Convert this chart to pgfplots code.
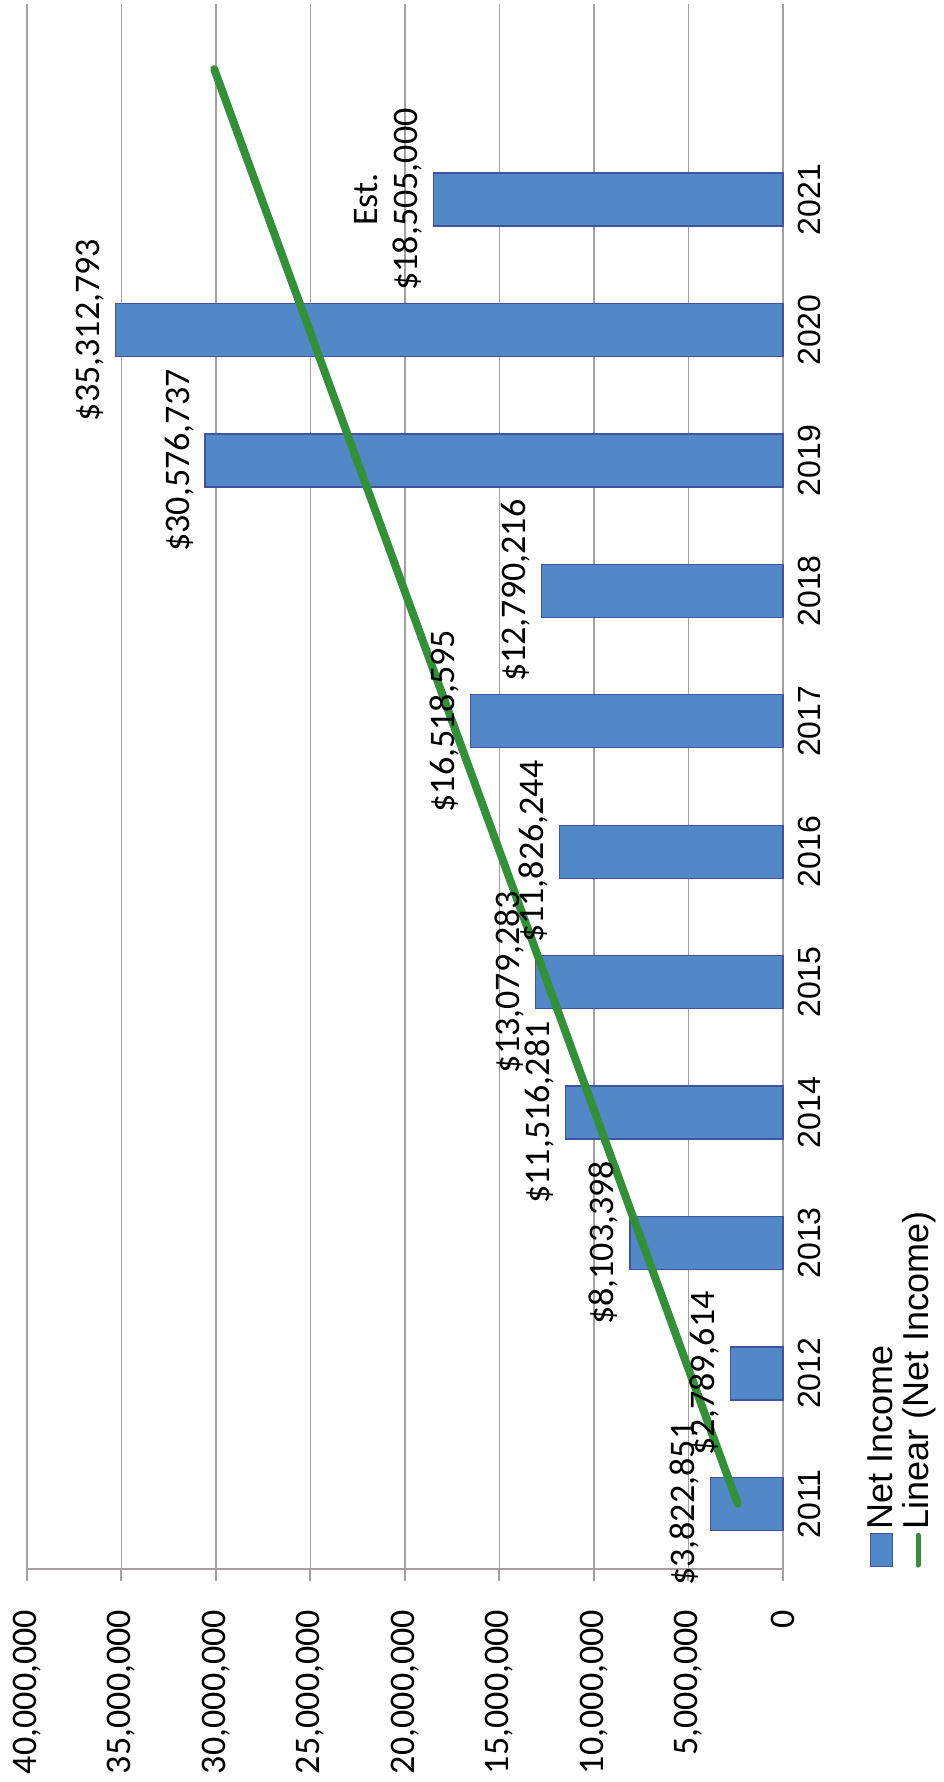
\documentclass[border=0pt]{standalone}
\usepackage{pgfplots}
\pgfplotsset{compat=1.18}
\usepackage{fontspec}
\setmainfont{Carlito}
\newfontfamily\arialf{Liberation Sans}
\definecolor{barfill}{RGB}{83,136,200}
\definecolor{barline}{RGB}{62,84,160}
\definecolor{trend}{RGB}{50,145,55}
\definecolor{gridc}{RGB}{165,160,160}
\begin{document}
\begin{tikzpicture}
\begin{axis}[
  scale only axis, width=378pt, height=782.5pt,
  clip=false,
  x dir=reverse,
  xmin=0, xmax=40000000, ymin=0.5, ymax=12.5,
  axis x line*=bottom, axis y line*=right,
  axis line style={draw=gridc, line width=1.3pt},
  xmajorgrids, grid style={draw=gridc, line width=0.8pt},
  xtick={0,5000000,10000000,15000000,20000000,25000000,30000000,35000000,40000000},
  xticklabels={0,{5,000,000},{10,000,000},{15,000,000},{20,000,000},{25,000,000},{30,000,000},{35,000,000},{40,000,000}},
  scaled x ticks=false,
  tick align=outside,
  xtick style={draw=gridc, line width=1pt},
  major tick length=6pt,
  xticklabel shift=11pt,
  xticklabel style={rotate=90, anchor=east, font=\fontsize{18}{21}\selectfont},
  ytick={1,2,3,4,5,6,7,8,9,10,11},
  yticklabels={2011,2012,2013,2014,2015,2016,2017,2018,2019,2020,2021},
  ytick style={draw=none},
  yticklabel style={rotate=90, anchor=north, inner sep=1.5pt, font=\arialf\fontsize{16}{19}\selectfont},
]
\addplot[xbar, bar width=26.5pt, bar shift=0pt, fill=barfill, draw=barline, line width=0.7pt,
  point meta=explicit symbolic,
  nodes near coords={\pgfplotspointmeta},
  every node near coord/.append style={rotate=90, anchor=south, yshift=2pt, align=center, text=black, font=\fontsize{18}{20}\selectfont}]
coordinates {
(3822851,1) [{\$3,822,851}]
(2789614,2) [{\$2,789,614}]
(8103398,3) [{\$8,103,398}]
(11516281,4) [{\$11,516,281}]
(13079283,5) [{\$13,079,283}]
(11826244,6) [{\$11,826,244}]
(16518595,7) [{\$16,518,595}]
(12790216,8) [{\$12,790,216}]
(30576737,9) [{\$30,576,737}]
(35312793,10) [{\$35,312,793}]
(18505000,11) [{Est.\\\$18,505,000}]
};
\addplot[trend, line width=4pt, line cap=round]
coordinates {(2398650,1) (30089830,12)};
% legend (drawn rotated, as in the reference)
\draw[fill=barfill, draw=barline, line width=0.5pt] (axis description cs:1.1164,0.0013) rectangle (axis description cs:1.1442,0.0230);
\draw[trend, line width=2.5pt, line cap=round] (axis description cs:1.1786,0.0025) -- (axis description cs:1.1786,0.0215);
\node[rotate=90, anchor=base west, inner sep=0pt, font=\arialf\fontsize{18}{20}\selectfont] at (axis description cs:1.1455,0.0249) {Net Income};
\node[rotate=90, anchor=base west, inner sep=0pt, font=\arialf\fontsize{18}{20}\selectfont] at (axis description cs:1.1931,0.0249) {Linear (Net Income)};
\coordinate (A) at (axis cs:0,0.5);
\coordinate (B) at (axis cs:40000000,12.5);
\end{axis}
\pgfresetboundingbox
\path[use as bounding box] ([shift={(-13.5pt,2pt)}]B) rectangle ([shift={(80pt,-106.5pt)}]A);
\end{tikzpicture}
\end{document}
